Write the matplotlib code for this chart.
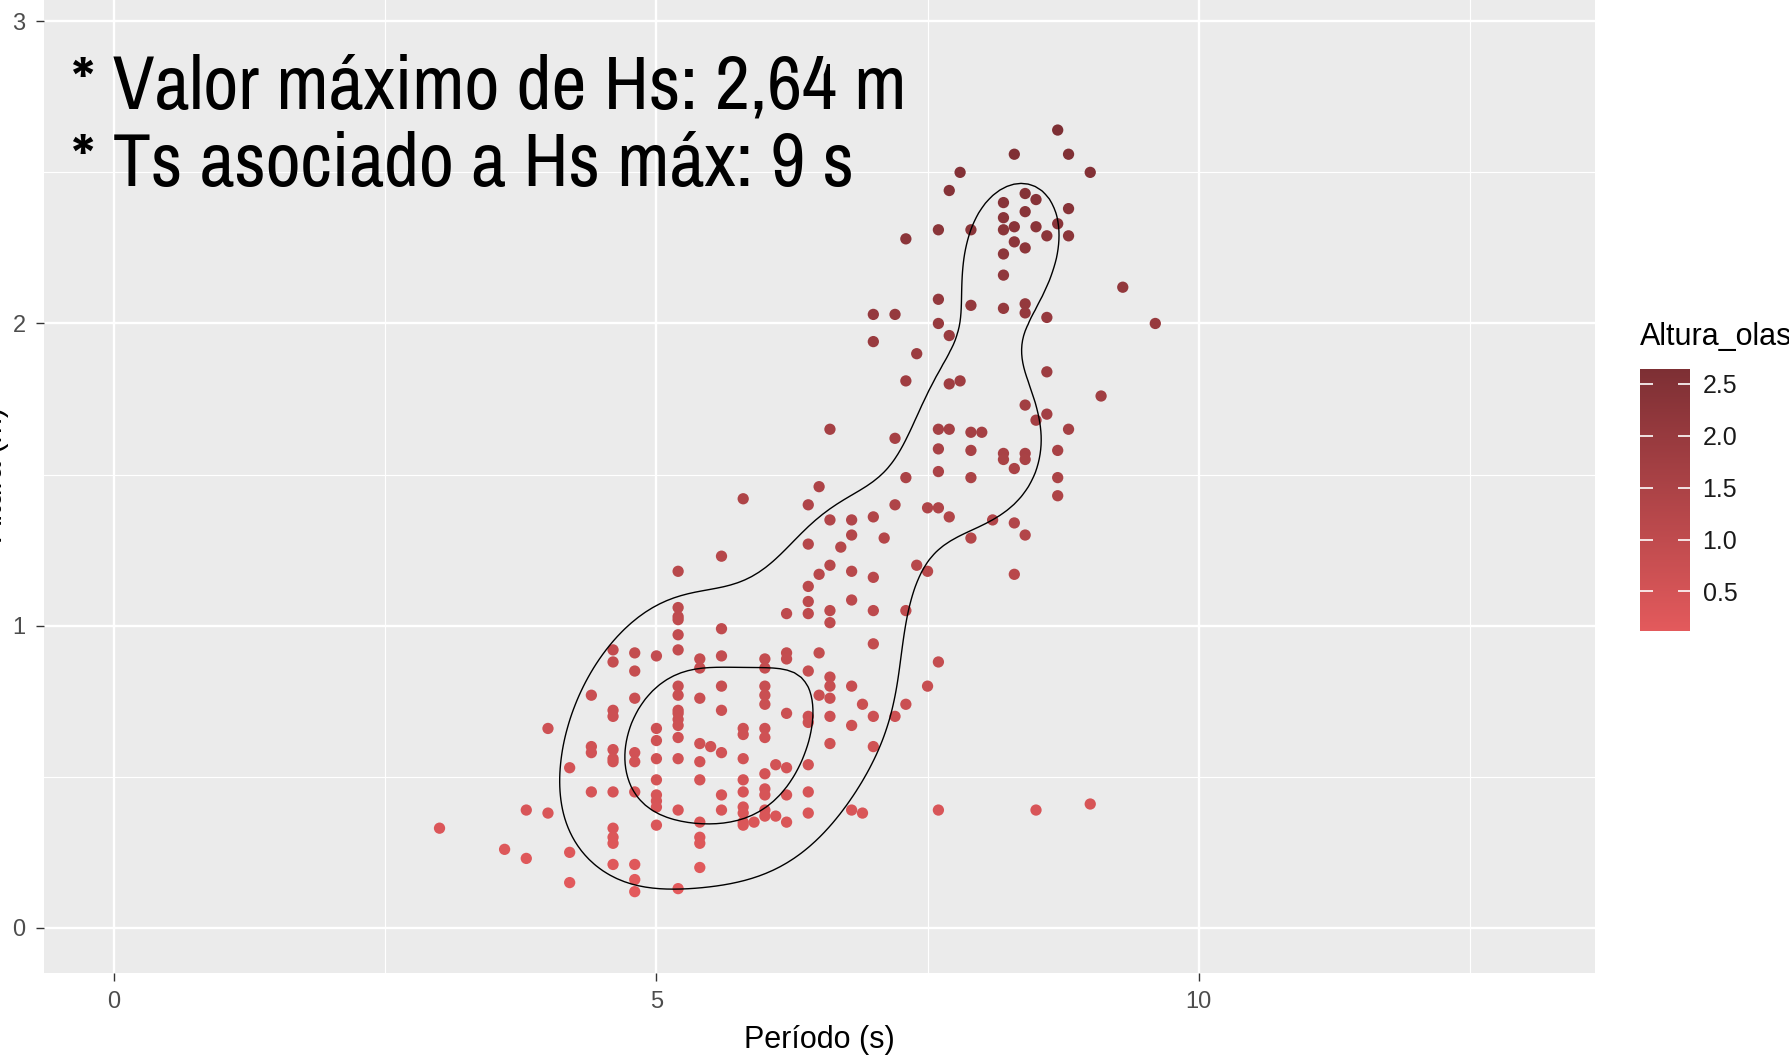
import numpy as np
import matplotlib
matplotlib.use("Agg")
import matplotlib.pyplot as plt
from matplotlib.colors import LinearSegmentedColormap, Normalize

periodos = [3.0, 3.6, 3.8, 4.0, 4.2, 4.4, 4.6, 4.8, 5.0, 5.2, 5.4, 5.5, 5.6, 5.8, 5.9,
            6.0, 6.1, 6.2, 6.4, 6.5, 6.6, 6.7, 6.8, 6.9, 7.0, 7.1, 7.2, 7.3, 7.4, 7.5,
            7.6, 7.7, 7.8, 7.9, 8.0, 8.1, 8.2, 8.3, 8.4, 8.5, 8.6, 8.7, 8.8, 9.0, 9.1,
            9.3, 9.6]
alturas = [
    [0.33],
    [0.26],
    [0.39, 0.23],
    [0.66, 0.38],
    [0.53, 0.25, 0.15],
    [0.77, 0.60, 0.58, 0.45],
    [0.92, 0.88, 0.72, 0.70, 0.59, 0.56, 0.55, 0.45, 0.33, 0.30, 0.28, 0.21],
    [0.91, 0.85, 0.76, 0.58, 0.55, 0.45, 0.21, 0.16, 0.12],
    [0.90, 0.66, 0.62, 0.56, 0.49, 0.44, 0.42, 0.40, 0.34],
    [1.18, 1.06, 1.03, 1.02, 0.97, 0.92, 0.80, 0.77, 0.72, 0.71, 0.69, 0.67, 0.63, 0.56, 0.39, 0.13],
    [0.89, 0.86, 0.76, 0.61, 0.55, 0.49, 0.35, 0.30, 0.28, 0.20],
    [0.60],
    [1.23, 0.99, 0.90, 0.80, 0.72, 0.58, 0.44, 0.39],
    [1.42, 0.66, 0.64, 0.56, 0.49, 0.45, 0.40, 0.38, 0.35, 0.34],
    [0.35],
    [0.89, 0.86, 0.80, 0.77, 0.74, 0.66, 0.63, 0.51, 0.46, 0.44, 0.39, 0.37],
    [0.54, 0.37],
    [1.04, 0.91, 0.89, 0.71, 0.53, 0.44, 0.35],
    [1.40, 1.27, 1.13, 1.08, 1.04, 0.85, 0.70, 0.68, 0.54, 0.45, 0.38],
    [1.46, 1.17, 0.91, 0.77],
    [1.65, 1.35, 1.20, 1.05, 1.01, 0.83, 0.80, 0.76, 0.70, 0.61],
    [1.26],
    [1.35, 1.30, 1.18, 1.085, 0.80, 0.67, 0.39],
    [0.74, 0.38],
    [2.03, 1.94, 1.36, 1.16, 1.05, 0.94, 0.70, 0.60],
    [1.29],
    [2.03, 1.62, 1.40, 0.70],
    [2.28, 1.81, 1.49, 1.05, 0.74],
    [1.90, 1.20],
    [1.39, 1.18, 0.80],
    [2.31, 2.08, 2.00, 1.65, 1.585, 1.51, 1.39, 0.88, 0.39],
    [2.44, 1.96, 1.80, 1.65, 1.36],
    [2.50, 1.81],
    [2.31, 2.06, 1.64, 1.58, 1.49, 1.29],
    [1.64],
    [1.35],
    [2.40, 2.35, 2.31, 2.23, 2.16, 2.05, 1.57, 1.55],
    [2.56, 2.32, 2.27, 1.52, 1.34, 1.17],
    [2.43, 2.37, 2.25, 2.065, 2.035, 1.73, 1.57, 1.55, 1.30],
    [2.41, 2.32, 1.68, 0.39],
    [2.29, 2.02, 1.84, 1.70],
    [2.64, 2.33, 1.58, 1.49, 1.43],
    [2.56, 2.38, 2.29, 1.65],
    [2.50, 0.41],
    [1.76],
    [2.12],
    [2.00],
]

x = np.concatenate([[p] * len(h) for p, h in zip(periodos, alturas)])
y = np.concatenate(alturas)


# densidad 2D como MASS::kde2d (lo que usa geom_density_2d), sobre los limites de la escala
def bandwidth_nrd(v):
    q1, q3 = np.percentile(v, [25, 75])
    return 4 * 1.06 * min(np.std(v, ddof=1), (q3 - q1) / 1.34) * len(v) ** (-0.2)


hx = bandwidth_nrd(x) / 4
hy = bandwidth_nrd(y) / 4
gx = np.linspace(0, 13, 200)
gy = np.linspace(0, 3, 200)
kx = np.exp(-0.5 * ((gx[:, None] - x[None, :]) / hx) ** 2) / np.sqrt(2 * np.pi)
ky = np.exp(-0.5 * ((gy[:, None] - y[None, :]) / hy) ** 2) / np.sqrt(2 * np.pi)
z = kx @ ky.T / (len(x) * hx * hy)
niveles = [0.4 * z.max(), 0.78 * z.max()]

cmap = LinearSegmentedColormap.from_list("olas", ["#E35A5C", "#7D2F34"])
norm = Normalize(vmin=y.min(), vmax=y.max())

fig = plt.figure(figsize=(17.9, 10.61), dpi=100)
ax = fig.add_axes([0.0244, 0.0827, 0.8664, 0.94])
ax.set_facecolor("#EBEBEB")
for s in ax.spines.values():
    s.set_visible(False)

ax.set_xlim(-0.65, 13.65)
ax.set_ylim(-0.15, 3.15)
ax.set_xticks([0, 5, 10])
ax.set_yticks([0, 1, 2, 3])
ax.set_xticks([2.5, 7.5, 12.5], minor=True)
ax.set_yticks([0.5, 1.5, 2.5], minor=True)
ax.grid(which="major", color="white", linewidth=1.7)
ax.grid(which="minor", color="white", linewidth=0.8)
ax.set_axisbelow(True)
ax.tick_params(which="major", length=6, width=1, color="#333333",
               labelsize=17, labelcolor="#4D4D4D", pad=7)
ax.tick_params(which="minor", length=0)
for lab in ax.get_xticklabels() + ax.get_yticklabels():
    lab.set_family("Liberation Sans")

ax.scatter(x, y, c=y, cmap=cmap, norm=norm, s=66, linewidths=0, zorder=3)
ax.contour(gx, gy, z.T, levels=niveles, colors="black", linewidths=1.0, zorder=4)

fig.text(819 / 1790, 0.0198, "Período (s)", ha="center", va="center",
         fontsize=22, family="Liberation Sans")
fig.text(9 / 1790, 0.553, "Altura (m)", ha="right", va="center", rotation=90,
         fontsize=22, family="Liberation Sans")

# texto superpuesto (letra estrecha como en la captura)
fuente = ["Liberation Sans Narrow", "Archivo Narrow", "Liberation Sans"]
fig.text(71 / 1790, 1 - 108 / 1061, "* Valor máximo de Hs: 2,64 m", ha="left",
         va="baseline", fontsize=55, family=fuente)
fig.text(71 / 1790, 1 - 186 / 1061, "* Ts asociado a Hs máx: 9 s", ha="left",
         va="baseline", fontsize=55, family=fuente)

# barra de color (leyenda)
cax = fig.add_axes([1640 / 1790, 1 - 631 / 1061, 50 / 1790, 262 / 1061])
cb = fig.colorbar(plt.cm.ScalarMappable(norm=norm, cmap=cmap), cax=cax)
cb.outline.set_visible(False)
cb.set_ticks([0.5, 1.0, 1.5, 2.0, 2.5])
cb.set_ticklabels(["0.5", "1.0", "1.5", "2.0", "2.5"])
cax.tick_params(direction="in", left=True, right=True, length=9, width=1.2,
                color="white", labelsize=18, labelcolor="#1A1A1A", pad=9)
for lab in cax.get_yticklabels():
    lab.set_family("Liberation Sans")
fig.text(1640 / 1790, 1 - 337 / 1061, "Altura_olas", ha="left", va="center",
         fontsize=22, family="Liberation Sans")

fig.savefig("out.png", dpi=100)
